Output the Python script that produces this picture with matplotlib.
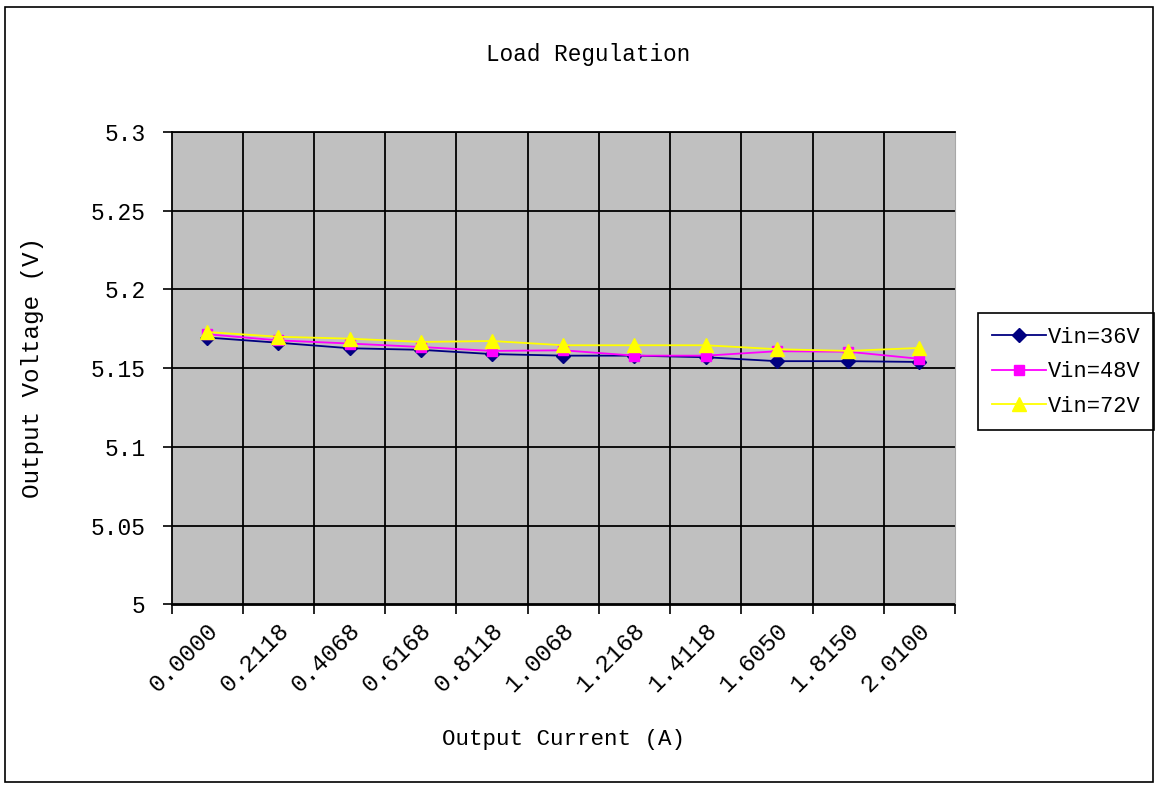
from matplotlib import pyplot as plt
from matplotlib import transforms
from matplotlib.patches import Rectangle

# load regulation data, one value per output current step
current_labels = ['0.0000', '0.2118', '0.4068', '0.6168', '0.8118', '1.0068',
                  '1.2168', '1.4118', '1.6050', '1.8150', '2.0100']
vin_36 = [5.1695, 5.1662, 5.1627, 5.1617, 5.1590, 5.1580, 5.1580, 5.1570, 5.1545, 5.1545, 5.1540]
vin_48 = [5.1716, 5.1677, 5.1657, 5.1635, 5.1610, 5.1614, 5.1580, 5.1580, 5.1608, 5.1605, 5.1560]
vin_72 = [5.1730, 5.1700, 5.1688, 5.1667, 5.1673, 5.1646, 5.1646, 5.1646, 5.1621, 5.1610, 5.1629]
y_ticks = [5.0, 5.05, 5.1, 5.15, 5.2, 5.25, 5.3]
y_tick_labels = ['5', '5.05', '5.1', '5.15', '5.2', '5.25', '5.3']

font = 'Liberation Mono'
W, H = 1156, 786

fig = plt.figure(figsize=(W / 100, H / 100), dpi=100)
fig.patch.set_facecolor('white')

# plot area in pixels: x 171.5..955, y 132..604.5
ax = fig.add_axes([171.5 / W, 1 - 604.5 / H, (955 - 171.5) / W, (604.5 - 132) / H])
ax.set_facecolor('#c0c0c0')

n = len(current_labels)
x = list(range(n))
ax.set_xlim(-0.5, n - 0.5)
ax.set_ylim(5.0, 5.3)

# gridlines
ax.set_yticks(y_ticks)
ax.set_yticklabels(y_tick_labels, fontfamily=font, fontsize=16.5)
ax.yaxis.grid(True, color='black', linewidth=1.3)
for b in range(n - 1):
    ax.axvline(b + 0.5, color='black', linewidth=1.3, zorder=0.5)
ax.set_axisbelow(True)

# tick marks sit between categories, labels under category centres
ax.set_xticks([i - 0.5 for i in range(n + 1)])
ax.set_xticklabels([])
ax.set_xticks(x, minor=True)
ax.set_xticklabels(current_labels, minor=True, fontfamily=font, fontsize=17.5,
                   rotation=45, ha='right', va='center', rotation_mode='anchor')
ax.tick_params(axis='x', which='major', length=6.5, width=1.2, direction='out', color='black')
ax.tick_params(axis='x', which='minor', length=0, pad=16)
ax.tick_params(axis='y', length=6.5, width=1.2, direction='out', color='black', pad=12)
offset = transforms.ScaledTranslation(7 / 100, 0, fig.dpi_scale_trans)
for lbl in ax.xaxis.get_minorticklabels():
    lbl.set_transform(lbl.get_transform() + offset)

ax.spines['left'].set_linewidth(1.3)
ax.spines['bottom'].set_linewidth(1.3)
ax.spines['top'].set_linewidth(1.3)
ax.spines['right'].set_color('#a8a8a8')

# series
ax.plot(x, vin_36, color='#000080', linewidth=1.3, marker='D', markersize=7,
        label='Vin=36V', zorder=3)
ax.plot(x, vin_48, color='#ff00ff', linewidth=1.3, marker='s', markersize=7.5,
        label='Vin=48V', zorder=3)
ax.plot(x, vin_72, color='#ffff00', linewidth=1.3, marker='^', markersize=10,
        label='Vin=72V', zorder=3)

leg = ax.legend(loc='upper left', bbox_to_anchor=(978 / W, 1 - 313 / H),
                bbox_transform=fig.transFigure, borderaxespad=0,
                prop={'family': font, 'size': 15.8}, fancybox=False, shadow=False,
                framealpha=1, edgecolor='black', handlelength=2.5,
                handletextpad=0.05, labelspacing=0.62, borderpad=0.62)
leg.get_frame().set_linewidth(1.2)

# titles
fig.text(588 / W, 1 - 55 / H, 'Load Regulation', family=font, fontsize=16.3,
         ha='center', va='center')
fig.text(564 / W, 1 - 740 / H, 'Output Current (A)', family=font, fontsize=16.2,
         ha='center', va='center')
fig.text(33 / W, 1 - 368 / H, 'Output Voltage (V)', family=font, fontsize=17.5,
         ha='center', va='center', rotation=90)

# outer chart border
fig.patches.append(Rectangle((5 / W, 1 - 782 / H), (1153 - 5) / W, (782 - 7) / H,
                             transform=fig.transFigure, fill=False,
                             edgecolor='black', linewidth=1.2))

fig.savefig('out.png', dpi=100)
